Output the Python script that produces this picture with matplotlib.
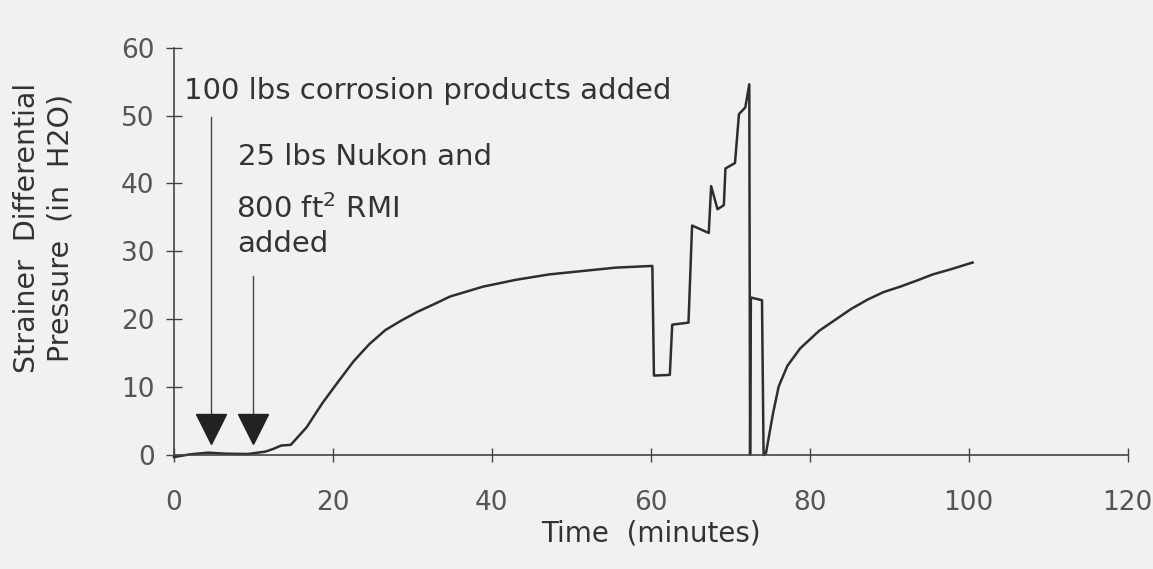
import matplotlib
matplotlib.use("Agg")
import matplotlib.pyplot as plt

# values (scan is tilted ~3 deg, readings de-rotated)
time_min = [0.0, 2.0, 4.3, 6.5, 9.3, 11.5, 12.5, 13.5, 14.7, 16.7, 18.65, 20.6,
            22.6, 24.6, 26.6, 28.6, 30.65, 32.7, 34.75, 38.9, 43.0, 47.2, 51.4,
            55.6, 60.2, 60.4, 62.4, 62.7, 64.75, 65.2, 67.3, 67.6, 68.4, 69.2,
            69.4, 70.6, 71.1, 71.9, 72.4, 72.5, 72.6, 74.0, 74.2, 74.5, 75.4,
            76.1, 77.2, 78.8, 81.2, 83.2, 85.2, 87.3, 89.3, 91.4, 93.5, 95.5,
            97.6, 100.5]
dp_inh2o = [-0.3, 0.1, 0.35, 0.2, 0.15, 0.5, 0.9, 1.4, 1.5, 4.1, 7.6, 10.7,
            13.8, 16.35, 18.4, 19.8, 21.1, 22.2, 23.35, 24.8, 25.8, 26.6, 27.1,
            27.6, 27.85, 11.7, 11.8, 19.2, 19.5, 33.8, 32.7, 39.6, 36.2, 36.8,
            42.2, 43.0, 50.2, 51.2, 54.6, 0.0, 23.2, 22.8, 0.0, 0.3, 6.2,
            10.1, 13.15, 15.7, 18.3, 19.9, 21.5, 22.9, 24.0, 24.8, 25.7, 26.6,
            27.3, 28.35]

# debris additions: marker times and annotation line tops
add_times = [4.6, 9.9]
add_marker_y = [3.9, 3.9]
add_line_top = [49.8, 26.3]
add_line_bottom = [6.0, 6.0]

xticks = [0, 20, 40, 60, 80, 100, 120]
yticks = [0, 10, 20, 30, 40, 50, 60]

paper = '#f1f1ef'
ink = '#333333'

plt.rcParams['font.family'] = 'DejaVu Sans'

fig = plt.figure(figsize=(11.53, 5.69), dpi=100, facecolor=paper)
ax = fig.add_axes([0.1509, 0.1824, 0.827, 0.7339])
ax.set_facecolor(paper)

ax.plot(time_min, dp_inh2o, color='#2e2e2e', lw=1.8, clip_on=False)

for t, top, bot, my in zip(add_times, add_line_top, add_line_bottom, add_marker_y):
    ax.plot([t, t], [bot, top], color='#444444', lw=1.0)
    ax.plot(t, my, marker='v', color='#222222', markersize=21, ls='none')

ax.text(1.2, 53.6, '100 lbs corrosion products added', fontsize=21,
        color=ink, va='center', ha='left')
ax.text(8.0, 43.85, '25 lbs Nukon and', fontsize=21, color=ink, va='center')
ax.text(7.8, 36.2, '800 ft$^2$ RMI', fontsize=21, color=ink, va='center')
ax.text(7.9, 31.05, 'added', fontsize=21, color=ink, va='center')

ax.set_xlim(0, 120)
ax.set_ylim(-1.5, 60)
for s in ['top', 'right']:
    ax.spines[s].set_visible(False)
ax.spines['bottom'].set_position(('data', 0))
ax.spines['left'].set_bounds(0, 60)
ax.spines['bottom'].set_bounds(0, 120)
for s in ['left', 'bottom']:
    ax.spines[s].set_color('#444444')
    ax.spines[s].set_linewidth(1.2)

ax.set_xticks(xticks)
ax.set_yticks(yticks)
ax.tick_params(axis='y', direction='inout', length=12, width=1.0,
               colors='#444444', labelsize=19, pad=8, labelcolor='#555555')
ax.tick_params(axis='x', direction='inout', length=10, width=1.0,
               colors='#444444', labelsize=19, pad=20, labelcolor='#555555')

ax.set_xlabel('Time  (minutes)', fontsize=20, color=ink, labelpad=3)
fig.text(0.038, 0.6, 'Strainer  Differential\nPressure  (in  H2O)', rotation=90,
         fontsize=20.5, color=ink, ha='center', va='center',
         multialignment='center', linespacing=1.25)

fig.savefig('out.png', dpi=100, facecolor=paper)
